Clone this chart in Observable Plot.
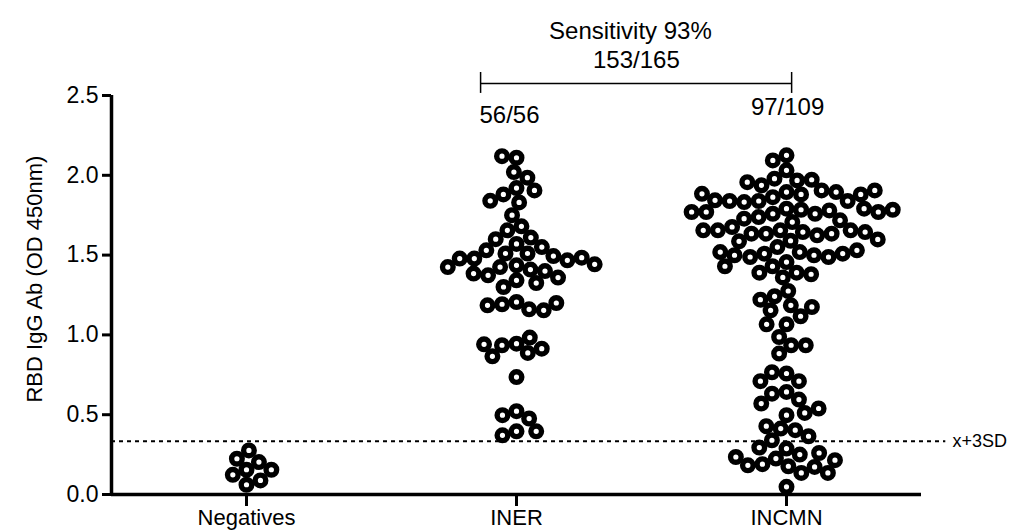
<!DOCTYPE html>
<html><head><meta charset="utf-8">
<script src="https://cdn.jsdelivr.net/npm/d3@7"></script>
<script src="https://cdn.jsdelivr.net/npm/@observablehq/plot@0.6"></script>
<style>
html,body{margin:0;padding:0;background:#fff;}
#chart svg{display:block;}
</style>
</head><body><div id="chart"></div>
<script>
// ---- data ----
const categories = ["Negatives", "INER", "INCMN"];
const negatives = [0.155, 0.224, 0.123, 0.203, 0.061, 0.276, 0.088, 0.155];
const iner = [2.11, 2.12, 2.02, 1.985, 1.92, 1.88, 1.905, 1.83, 1.84, 1.75, 1.68, 1.655,
  1.61, 1.57, 1.60, 1.55, 1.53, 1.51, 1.51, 1.494, 1.478, 1.467, 1.478, 1.484,
  1.436, 1.425, 1.409, 1.425, 1.442, 1.40, 1.373, 1.342, 1.359, 1.384, 1.30, 1.325,
  1.206, 1.192, 1.160, 1.154, 1.185, 1.20, 0.945, 0.935, 0.983, 0.887, 0.866, 0.914,
  0.941, 0.736, 0.522, 0.497, 0.476, 0.396, 0.371, 0.396];
const incmn = [2.125, 2.093, 2.031, 1.979, 1.968, 1.972, 1.937, 1.895, 1.957, 1.905,
  1.895, 1.880, 1.863, 1.839, 1.832, 1.839, 1.839, 1.843, 1.880, 1.884, 1.905,
  1.791, 1.784, 1.759, 1.759, 1.780, 1.791, 1.770, 1.738, 1.770, 1.770, 1.784,
  1.728, 1.718, 1.707,
  1.655, 1.644, 1.634, 1.624, 1.676, 1.655, 1.655, 1.634, 1.634, 1.644, 1.655,
  1.598, 1.590, 1.586,
  1.550, 1.519, 1.509, 1.499, 1.488, 1.456, 1.488, 1.499, 1.509, 1.519, 1.530,
  1.43, 1.39, 1.38, 1.36, 1.39, 1.43, 1.275, 1.242,
  1.185, 1.154, 1.117, 1.175, 1.221, 1.066, 1.066, 0.987, 0.935, 0.935, 0.883,
  0.758, 0.766, 0.71, 0.71, 0.643, 0.632, 0.595, 0.57, 0.497, 0.511, 0.539,
  0.413, 0.403, 0.428, 0.365, 0.34, 0.288, 0.294,
  0.25, 0.225, 0.19, 0.177, 0.135, 0.173, 0.183, 0.135, 0.215, 0.235, 0.26, 0.048];
const cutoff = 0.334;
const yTicks = [0, 0.5, 1.0, 1.5, 2.0, 2.5];
const yLabel = "RBD IgG Ab (OD 450nm)";
const cutoffLabel = "x+3SD";
const sensitivityLabel = "Sensitivity 93%";
const overallCount = "153/165";
const inerCount = "56/56";
const incmnCount = "97/109";

const points = [
  ...negatives.map(v => ({g: "Negatives", v})),
  ...iner.map(v => ({g: "INER", v})),
  ...incmn.map(v => ({g: "INCMN", v}))
];

const font = "'Liberation Sans', Arial, sans-serif";
const plot = Plot.plot({
  width: 1026, height: 530,
  marginLeft: 111, marginRight: 105, marginTop: 95, marginBottom: 36,
  style: {fontFamily: font, background: "#fff", color: "#000", overflow: "visible"},
  fx: {domain: categories, padding: 0, label: null},
  x: {domain: [0, 1], axis: null},
  y: {domain: [0, 2.5], label: null},
  marks: [
    Plot.ruleY([cutoff], {x1: 0, x2: 3.09, facetAnchor: "left", stroke: "#000", strokeWidth: 2, strokeDasharray: "4,4"}),
    Plot.text([cutoffLabel], {x: 3.115, y: cutoff, textAnchor: "start", fontSize: 18, facetAnchor: "left"}),
    Plot.ruleY([0], {x1: 0, x2: 3, facetAnchor: "left", stroke: "#000", strokeWidth: 3.5}),
    Plot.ruleX([0], {y1: 0, y2: 2.5, facetAnchor: "left", stroke: "#000", strokeWidth: 3.5}),
    Plot.axisY({ticks: yTicks, tickFormat: d3.format(".1f"), tickSize: 9, tickPadding: 4, strokeWidth: 3, fontSize: 23, label: null}),
    Plot.axisFx({anchor: "bottom", tickSize: 12, tickPadding: 3, strokeWidth: 3, fontSize: 22, label: null}),
    Plot.text([yLabel], {frameAnchor: "left", textAnchor: "middle", y: () => 1.35, rotate: -90, dx: -77, fontSize: 22, facetAnchor: "left"}),
    Plot.dot(points, Plot.dodgeX({anchor: "middle", padding: 4}, {fx: "g", y: "v", r: 5.3, fill: "white", stroke: "black", strokeWidth: 5.4})),
    Plot.text([sensitivityLabel], {fx: () => "INER", x: 0.922, y: 2.90, fontSize: 24}),
    Plot.text([overallCount], {fx: () => "INER", x: 0.944, y: 2.72, fontSize: 24}),
    Plot.ruleY([2.575], {fx: () => "INER", x1: 0.367, x2: 1.519, stroke: "#000", strokeWidth: 1.5}),
    Plot.ruleX([0.367, 1.519], {fx: () => "INER", y1: 2.513, y2: 2.644, stroke: "#000", strokeWidth: 1.5}),
    Plot.text([inerCount], {fx: () => "INER", x: 0.474, y: 2.375, fontSize: 24}),
    Plot.text([incmnCount], {fx: () => "INCMN", x: 0.504, y: 2.425, fontSize: 24})
  ]
});
document.getElementById("chart").append(plot);
</script>
</body></html>
